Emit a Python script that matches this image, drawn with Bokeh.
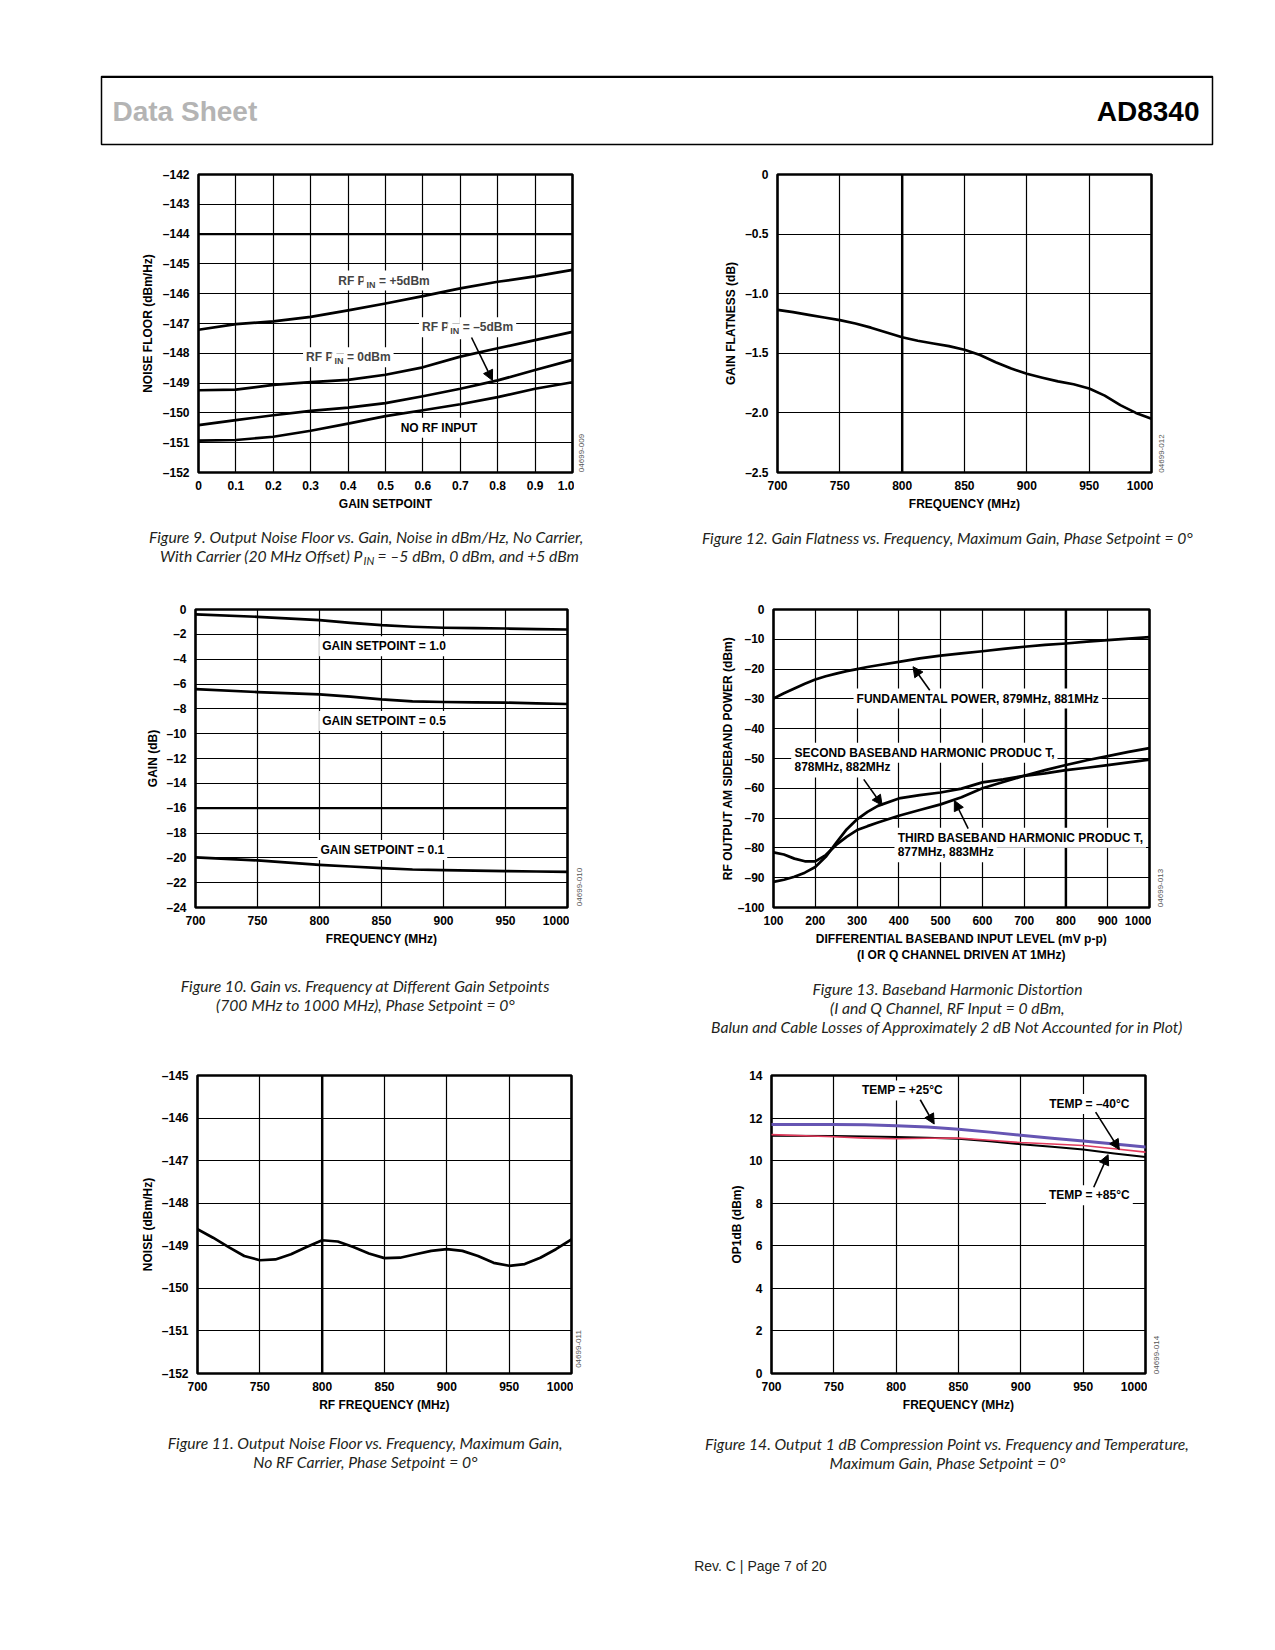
import math
from bokeh.plotting import figure
from bokeh.models import FixedTicker, Range1d, Label, Arrow, NormalHead, Span
from bokeh.layouts import column, row
from bokeh.embed import file_html
from bokeh.resources import INLINE

# ---------------- data ----------------
# Figure 9: noise floor vs gain setpoint
f9_gain = [0.0, 0.1, 0.2, 0.3, 0.4, 0.5, 0.6, 0.7, 0.8, 0.9, 1.0]
f9_pin_p5 = [-147.21, -147.02, -146.93, -146.78, -146.56, -146.33, -146.08, -145.82, -145.60, -145.42, -145.20]
f9_pin_0 = [-149.24, -149.22, -149.06, -148.97, -148.89, -148.72, -148.47, -148.11, -147.83, -147.56, -147.28]
f9_pin_m5 = [-150.41, -150.24, -150.08, -149.93, -149.82, -149.67, -149.44, -149.19, -148.91, -148.56, -148.22]
f9_no_rf = [-150.93, -150.91, -150.80, -150.60, -150.36, -150.11, -149.91, -149.71, -149.47, -149.19, -148.97]
f9_xticks = [0, 0.1, 0.2, 0.3, 0.4, 0.5, 0.6, 0.7, 0.8, 0.9, 1.0]
f9_xlabels = ["0", "0.1", "0.2", "0.3", "0.4", "0.5", "0.6", "0.7", "0.8", "0.9", "1.0"]
f9_yticks = [-152, -151, -150, -149, -148, -147, -146, -145, -144, -143, -142]
f9_ylabels = ["–152", "–151", "–150", "–149", "–148", "–147", "–146", "–145", "–144", "–143", "–142"]
f9_bold_y = -144

# Figure 12: gain flatness vs frequency
f12_freq = [700, 712.5, 725, 737.5, 750, 762.5, 775, 787.5, 800, 812.5, 825, 837.5, 850, 862.5,
            875, 887.5, 900, 912.5, 925, 937.5, 950, 962.5, 975, 987.5, 1000]
f12_flat = [-1.135, -1.155, -1.178, -1.200, -1.222, -1.250, -1.285, -1.325, -1.365, -1.395, -1.418,
            -1.440, -1.470, -1.515, -1.575, -1.628, -1.672, -1.705, -1.735, -1.760, -1.795, -1.855,
            -1.935, -2.000, -2.050]
f12_xticks = [700, 750, 800, 850, 900, 950, 1000]
f12_xlabels = ["700", "750", "800", "850", "900", "950", "1000"]
f12_yticks = [-2.5, -2.0, -1.5, -1.0, -0.5, 0]
f12_ylabels = ["–2.5", "–2.0", "–1.5", "–1.0", "–0.5", "0"]
f12_bold_x = 800

# Figure 10: gain vs frequency at gain setpoints
f10_freq = [700, 750, 800, 825, 850, 875, 900, 925, 950, 975, 1000]
f10_sp10 = [-0.40, -0.59, -0.86, -1.07, -1.26, -1.39, -1.47, -1.50, -1.53, -1.58, -1.61]
f10_sp05 = [-6.41, -6.65, -6.84, -7.02, -7.24, -7.40, -7.45, -7.48, -7.50, -7.56, -7.61]
f10_sp01 = [-19.97, -20.21, -20.56, -20.70, -20.83, -20.94, -20.99, -21.03, -21.07, -21.10, -21.13]
f10_xticks = [700, 750, 800, 850, 900, 950, 1000]
f10_xlabels = ["700", "750", "800", "850", "900", "950", "1000"]
f10_yticks = [-24, -22, -20, -18, -16, -14, -12, -10, -8, -6, -4, -2, 0]
f10_ylabels = ["–24", "–22", "–20", "–18", "–16", "–14", "–12", "–10", "–8", "–6", "–4", "–2", "0"]
f10_bold_y = -16

# Figure 13: baseband harmonic distortion
f13_level = [100, 125, 150, 175, 200, 225, 250, 275, 300, 325, 350, 400, 450, 500, 550, 600,
             650, 700, 750, 800, 850, 900, 950, 1000]
f13_fund = [-29.9, -28.1, -26.5, -24.9, -23.5, -22.4, -21.5, -20.7, -20.0, -19.3, -18.7, -17.6,
            -16.4, -15.5, -14.7, -14.0, -13.2, -12.5, -11.9, -11.4, -10.8, -10.3, -9.8, -9.3]
f13_second = [-91.4, -90.7, -89.7, -88.3, -86.4, -83.0, -78.3, -73.8, -70.4, -67.9, -65.9, -63.4,
              -62.3, -61.4, -60.1, -58.0, -57.0, -55.8, -55.0, -53.9, -53.1, -52.2, -51.3, -50.4]
f13_third = [-81.5, -82.2, -83.6, -84.5, -84.5, -82.4, -79.0, -76.3, -74.0, -72.7, -71.5, -69.2,
             -67.3, -65.4, -63.0, -60.0, -57.9, -55.8, -53.9, -52.2, -50.6, -49.2, -47.8, -46.5]
f13_xticks = [100, 200, 300, 400, 500, 600, 700, 800, 900, 1000]
f13_xlabels = ["100", "200", "300", "400", "500", "600", "700", "800", "900", "1000"]
f13_yticks = [-100, -90, -80, -70, -60, -50, -40, -30, -20, -10, 0]
f13_ylabels = ["–100", "–90", "–80", "–70", "–60", "–50", "–40", "–30", "–20", "–10", "0"]
f13_bold_x = 800

# Figure 11: output noise floor vs frequency
f11_freq = [700, 712.5, 725, 737.5, 750, 762.5, 775, 787.5, 800, 812.5, 825, 837.5, 850, 862.5,
            875, 887.5, 900, 912.5, 925, 937.5, 950, 962.5, 975, 987.5, 1000]
f11_noise = [-148.61, -148.81, -149.03, -149.24, -149.34, -149.32, -149.20, -149.03, -148.87,
             -148.90, -149.03, -149.18, -149.29, -149.28, -149.20, -149.12, -149.08, -149.12,
             -149.24, -149.40, -149.47, -149.43, -149.28, -149.08, -148.85]
f11_xticks = [700, 750, 800, 850, 900, 950, 1000]
f11_xlabels = ["700", "750", "800", "850", "900", "950", "1000"]
f11_yticks = [-152, -151, -150, -149, -148, -147, -146, -145]
f11_ylabels = ["–152", "–151", "–150", "–149", "–148", "–147", "–146", "–145"]
f11_bold_x = 800

# Figure 14: OP1dB vs frequency and temperature
f14_freq = [700, 750, 775, 800, 825, 850, 875, 900, 925, 950, 975, 1000]
f14_t25 = [11.70, 11.70, 11.69, 11.64, 11.58, 11.47, 11.34, 11.19, 11.05, 10.92, 10.78, 10.64]
f14_tm40 = [11.22, 11.12, 11.06, 11.03, 11.05, 11.06, 10.96, 10.85, 10.78, 10.71, 10.56, 10.40]
f14_t85 = [11.17, 11.16, 11.14, 11.11, 11.08, 11.03, 10.91, 10.77, 10.65, 10.52, 10.34, 10.17]
f14_xticks = [700, 750, 800, 850, 900, 950, 1000]
f14_xlabels = ["700", "750", "800", "850", "900", "950", "1000"]
f14_yticks = [0, 2, 4, 6, 8, 10, 12, 14]
f14_ylabels = ["0", "2", "4", "6", "8", "10", "12", "14"]

# ---------------- styling helpers ----------------
FONT = "Liberation Sans"
CAP_FONT = "Lato"
CAP_COLOR = "#231f20"
CAP_SIZE = "15.7px"


def chart(xr, yr, xt, xl, yt, yl, xlabel, ylabel, left, fw, right, top, fh, bottom, ylab_standoff):
    p = figure(x_range=Range1d(*xr), y_range=Range1d(*yr), frame_width=fw, frame_height=fh,
               min_border_left=left, min_border_right=right, min_border_top=top,
               min_border_bottom=bottom, output_backend="svg", toolbar_location=None, title=None)
    p.background_fill_color = "white"
    p.border_fill_color = "white"
    p.outline_line_color = "black"
    p.outline_line_width = 2.6
    for ax, ticks, labels in ((p.xaxis[0], xt, xl), (p.yaxis[0], yt, yl)):
        ax.ticker = FixedTicker(ticks=ticks)
        ax.major_label_overrides = {t: s for t, s in zip(ticks, labels)}
        ax.major_tick_line_color = None
        ax.minor_tick_line_color = None
        ax.axis_line_color = None
        ax.major_label_text_font = FONT
        ax.major_label_text_font_style = "bold"
        ax.major_label_text_font_size = "12px"
        ax.major_label_text_color = "black"
        ax.axis_label_text_font = FONT
        ax.axis_label_text_font_style = "bold"
        ax.axis_label_text_font_size = "12px"
        ax.axis_label_text_color = "black"
    p.xaxis[0].major_label_standoff = 2
    p.yaxis[0].major_label_standoff = 3
    p.xaxis[0].axis_label = xlabel
    p.yaxis[0].axis_label = ylabel
    p.xaxis[0].axis_label_standoff = 4
    p.yaxis[0].axis_label_standoff = ylab_standoff
    p.xgrid[0].ticker = FixedTicker(ticks=xt)
    p.ygrid[0].ticker = FixedTicker(ticks=yt)
    for g in (p.xgrid[0], p.ygrid[0]):
        g.grid_line_color = "black"
        g.grid_line_width = 1.2
        g.grid_line_alpha = 1.0
    return p


def blank(w, h):
    b = figure(x_range=Range1d(0, 1), y_range=Range1d(0, 1), frame_width=w, frame_height=h,
               min_border=0, x_axis_type=None, y_axis_type=None, output_backend="svg",
               toolbar_location=None, title=None)
    b.grid.visible = False
    b.outline_line_color = None
    b.background_fill_color = "white"
    b.border_fill_color = "white"
    return b


def txt(p, x, y, text, align="center", size="12px", **kw):
    lab = Label(x=x, y=y, text=text, text_font=FONT, text_font_style="bold",
                text_font_size=size, text_align=align, text_baseline="middle",
                text_color="black", background_fill_color="white", background_fill_alpha=1.0,
                padding=3, **kw)
    p.add_layout(lab)
    return lab


def sub_label(p, x, y, pre, sub, post):
    # "RF P" + subscript "IN" + rest
    p.add_layout(Label(x=x, y=y, text=pre, text_font=FONT, text_font_style="bold",
                       text_font_size="12px", text_align="right", text_baseline="middle",
                       x_offset=2.5, background_fill_color="white", padding=3))
    p.add_layout(Label(x=x, y=y, text=sub, text_font=FONT, text_font_style="bold",
                       text_font_size="9px", text_align="left", text_baseline="middle",
                       x_offset=-2.5, y_offset=-4, background_fill_color="white", padding=3))
    p.add_layout(Label(x=x, y=y, text=post, text_font=FONT, text_font_style="bold",
                       text_font_size="12px", text_align="left", text_baseline="middle",
                       x_offset=10, background_fill_color="white", padding=3))


def arrow(p, x0, y0, x1, y1):
    p.add_layout(Arrow(end=NormalHead(size=10, fill_color="black", line_color="black", line_width=1),
                       x_start=x0, y_start=y0, x_end=x1, y_end=y1, line_width=1.6,
                       line_color="black"))


def caption(p, x, y, text, align="center", size=CAP_SIZE, y_off=0):
    p.add_layout(Label(x=x, y=y, x_units="screen", y_units="screen", text=text,
                       text_font=CAP_FONT, text_font_style="italic", text_font_size=size,
                       text_color=CAP_COLOR, text_baseline="middle", text_align=align,
                       y_offset=y_off))


def watermark(w, h, x, y, text):
    b = blank(w, h)
    b.add_layout(Label(x=x, y=y, x_units="screen", y_units="screen", text=text,
                       text_font=FONT, text_font_size="8px", text_color="#555555",
                       angle=math.pi / 2, text_align="center", text_baseline="middle"))
    return b


def curve(p, x, y, color="black", width=2.7):
    p.line(x, y, line_color=color, line_width=width, line_join="round", line_cap="round")


# ---------------- header ----------------
hdr = figure(x_range=Range1d(0, 1), y_range=Range1d(0, 1), frame_width=1111, frame_height=68,
             min_border_left=101, min_border_right=56, min_border_top=76, min_border_bottom=6,
             x_axis_type=None, y_axis_type=None, output_backend="svg", toolbar_location=None,
             title=None)
hdr.grid.visible = False
hdr.outline_line_color = "black"
hdr.outline_line_width = 1.5
hdr.background_fill_color = "white"
hdr.border_fill_color = "white"
hdr.add_layout(Span(location=1, dimension="width", line_color="black", line_width=3))
hdr.add_layout(Label(x=11, y=33, x_units="screen", y_units="screen", text="Data Sheet",
                     text_font=FONT, text_font_style="bold", text_font_size="28px",
                     text_color="#b4b4b4", text_baseline="alphabetic"))
hdr.add_layout(Label(x=1098, y=33, x_units="screen", y_units="screen", text="AD8340",
                     text_font=FONT, text_font_style="bold", text_font_size="28px",
                     text_color="black", text_align="right", text_baseline="alphabetic"))

# ---------------- Figure 9 ----------------
p9 = chart((0, 1), (-152, -142), f9_xticks, f9_xlabels, f9_yticks, f9_ylabels,
           "GAIN SETPOINT", "NOISE FLOOR (dBm/Hz)", 198, 374, 2, 24, 298, 50, 5)
p9.add_layout(Span(location=f9_bold_y, dimension="width", line_color="black", line_width=2.4))
for ys in (f9_pin_p5, f9_pin_0, f9_pin_m5, f9_no_rf):
    curve(p9, f9_gain, ys)
sub_label(p9, 0.448, -145.56, "RF P", "IN", "= +5dBm")
sub_label(p9, 0.672, -147.13, "RF P", "IN", "= –5dBm")
sub_label(p9, 0.362, -148.13, "RF P", "IN", "= 0dBm")
txt(p9, 0.643, -150.5, "NO RF INPUT")
arrow(p9, 0.73, -147.47, 0.786, -148.91)
wm9 = watermark(34, 372, 7, 93.5, "04699-009")

# ---------------- Figure 12 ----------------
p12 = chart((700, 1000), (-2.5, 0), f12_xticks, f12_xlabels, f12_yticks, f12_ylabels,
            "FREQUENCY (MHz)", "GAIN FLATNESS (dB)", 169, 374, 2, 24, 298, 50, 4)
p12.add_layout(Span(location=f12_bold_x, dimension="height", line_color="black", line_width=2.4))
curve(p12, f12_freq, f12_flat)
wm12 = watermark(115, 372, 8, 93, "04699-012")

cap9 = blank(608, 56)
caption(cap9, 366, 41.5, "Figure 9. Output Noise Floor vs. Gain, Noise in dBm/Hz, No Carrier,")
caption(cap9, 362, 22.5, "With Carrier (20 MHz Offset) P", align="right")
caption(cap9, 363, 22.5, "IN", align="left", size="11px", y_off=-4)
caption(cap9, 377, 22.5, "= –5 dBm, 0 dBm, and +5 dBm", align="left")
cap12 = blank(660, 56)
caption(cap12, 339, 40.4, "Figure 12. Gain Flatness vs. Frequency, Maximum Gain, Phase Setpoint = 0°")

# ---------------- Figure 10 ----------------
p10 = chart((700, 1000), (-24, 0), f10_xticks, f10_xlabels, f10_yticks, f10_ylabels,
            "FREQUENCY (MHz)", "GAIN (dB)", 195, 372, 2, 30, 298, 64, 3)
p10.add_layout(Span(location=f10_bold_y, dimension="width", line_color="black", line_width=2.4))
for ys in (f10_sp10, f10_sp05, f10_sp01):
    curve(p10, f10_freq, ys)
txt(p10, 852, -2.95, "GAIN SETPOINT = 1.0")
txt(p10, 852, -8.98, "GAIN SETPOINT = 0.5")
txt(p10, 850.7, -19.36, "GAIN SETPOINT = 0.1")
wm10 = watermark(39, 392, 10, 114.5, "04699-010")

# ---------------- Figure 13 ----------------
p13 = chart((100, 1000), (-100, 0), f13_xticks, f13_xlabels, f13_yticks, f13_ylabels,
            "DIFFERENTIAL BASEBAND INPUT LEVEL (mV p-p)\n(I OR Q CHANNEL DRIVEN AT 1MHz)",
            "RF OUTPUT AM SIDEBAND POWER (dBm)", 165, 376, 2, 31, 298, 63, 0)
p13.add_layout(Span(location=f13_bold_x, dimension="height", line_color="black", line_width=2.4))
for ys in (f13_fund, f13_second, f13_third):
    curve(p13, f13_level, ys)
txt(p13, 589, -29.9, "FUNDAMENTAL POWER, 879MHz, 881MHz")
txt(p13, 143, -48.1, "SECOND BASEBAND HARMONIC PRODUC T,", align="left")
txt(p13, 143, -53.0, "878MHz, 882MHz", align="left")
txt(p13, 390, -76.6, "THIRD BASEBAND HARMONIC PRODUC T,", align="left")
txt(p13, 390, -81.5, "877MHz, 883MHz", align="left")
arrow(p13, 474, -27.1, 434, -19.2)
arrow(p13, 316, -57.0, 360, -65.7)
arrow(p13, 566, -73.5, 533, -64.1)
wm13 = watermark(117, 392, 9, 113.5, "04699-013")

cap10 = blank(608, 75)
caption(cap10, 365, 59.3, "Figure 10. Gain vs. Frequency at Different Gain Setpoints")
caption(cap10, 365, 40.3, "(700 MHz to 1000 MHz), Phase Setpoint = 0°")
cap13 = blank(660, 75)
caption(cap13, 339, 57, "Figure 13. Baseband Harmonic Distortion")
caption(cap13, 339, 38, "(I and Q Channel, RF Input = 0 dBm,")
caption(cap13, 339, 19, "Balun and Cable Losses of Approximately 2 dB Not Accounted for in Plot)")

# ---------------- Figure 11 ----------------
p11 = chart((700, 1000), (-152, -145), f11_xticks, f11_xlabels, f11_yticks, f11_ylabels,
            "RF FREQUENCY (MHz)", "NOISE (dBm/Hz)", 197, 374, 2, 30, 298, 50, 4)
p11.add_layout(Span(location=f11_bold_x, dimension="height", line_color="black", line_width=2.4))
curve(p11, f11_freq, f11_noise)
wm11 = watermark(35, 378, 5, 104.5, "04699-011")

# ---------------- Figure 14 ----------------
p14 = chart((700, 1000), (0, 14), f14_xticks, f14_xlabels, f14_yticks, f14_ylabels,
            "FREQUENCY (MHz)", "OP1dB (dBm)", 163, 374, 2, 30, 298, 50, 2)
curve(p14, f14_freq, f14_t85, color="black", width=2.0)
curve(p14, f14_freq, f14_tm40, color="#e23a5c", width=1.6)
curve(p14, f14_freq, f14_t25, color="#6655b3", width=3.0)
txt(p14, 805, 13.3, "TEMP = +25°C")
txt(p14, 955, 12.66, "TEMP = –40°C")
txt(p14, 955, 8.37, "TEMP = +85°C")
arrow(p14, 819.3, 12.86, 830.5, 11.72)
arrow(p14, 960, 12.28, 979, 10.52)
arrow(p14, 958.5, 8.75, 970, 10.28)
wm14 = watermark(121, 378, 9, 98.5, "04699-014")

cap11 = blank(608, 57)
caption(cap11, 365, 38, "Figure 11. Output Noise Floor vs. Frequency, Maximum Gain,")
caption(cap11, 365, 19, "No RF Carrier, Phase Setpoint = 0°")
cap14 = blank(660, 57)
caption(cap14, 339, 37, "Figure 14. Output 1 dB Compression Point vs. Frequency and Temperature,")
caption(cap14, 339, 18, "Maximum Gain, Phase Setpoint = 0°")

# ---------------- footer ----------------
ftr = blank(1268, 120)
ftr.add_layout(Label(x=659, y=35, x_units="screen", y_units="screen", text="Rev. C | Page 7 of 20",
                     text_font=FONT, text_font_size="14px", text_color=CAP_COLOR,
                     text_align="center", text_baseline="middle"))

layout = column(hdr,
                row(p9, wm9, p12, wm12), row(cap9, cap12),
                row(p10, wm10, p13, wm13), row(cap10, cap13),
                row(p11, wm11, p14, wm14), row(cap11, cap14),
                ftr)
open("out.html", "w").write(file_html(layout, INLINE))
